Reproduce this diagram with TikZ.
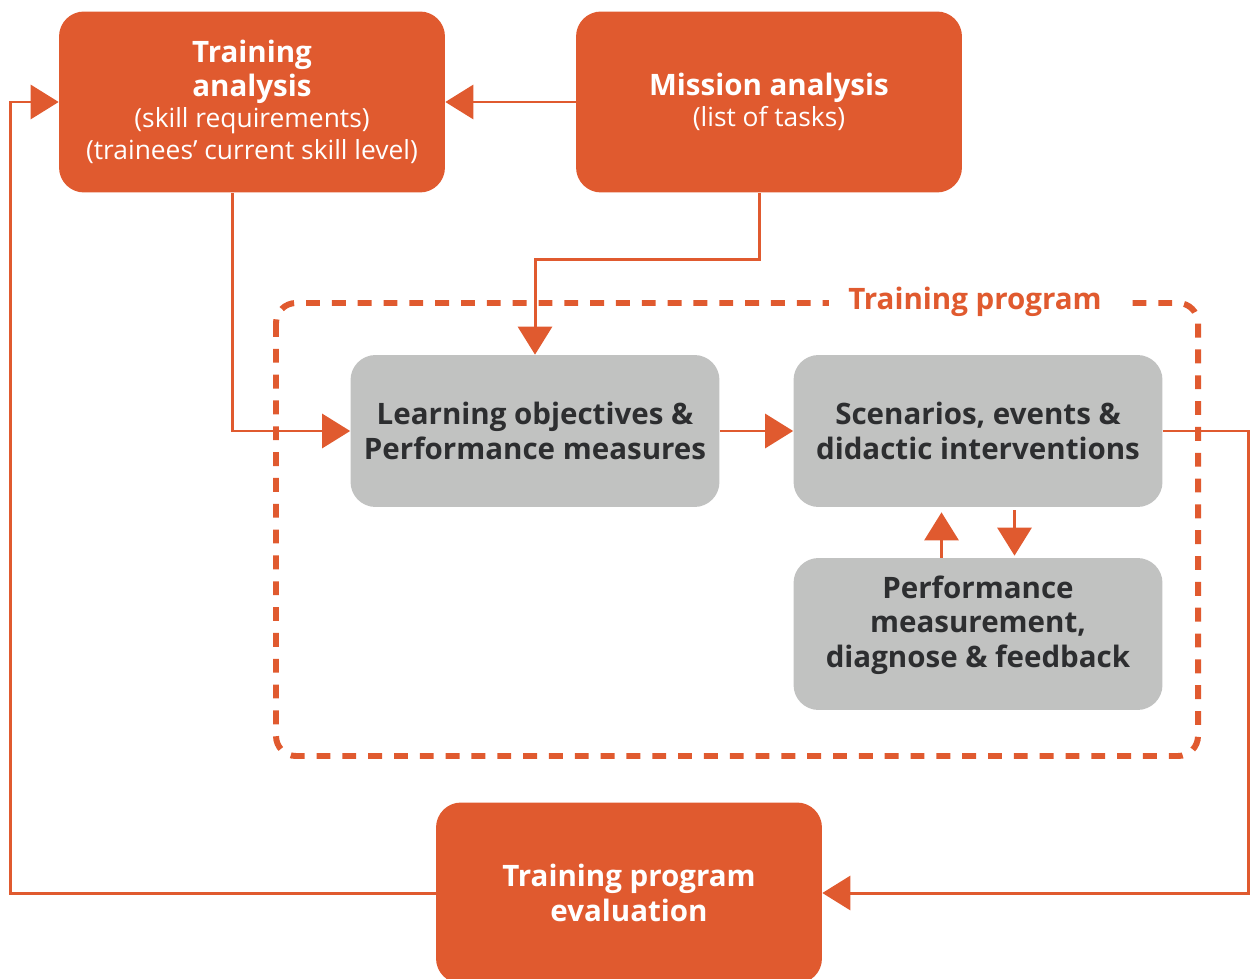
\documentclass[tikz,border=0pt]{standalone}
\usepackage{fontspec}
\setmainfont{Open Sans}
\usetikzlibrary{arrows.meta}
\definecolor{brick}{HTML}{E05A2F}
\definecolor{pale}{HTML}{C1C2C1}
\definecolor{ink}{HTML}{2D2E30}
\newcommand{\headfont}{\bfseries\fontsize{16.8}{19.8}\selectfont}

\begin{document}
\begin{tikzpicture}
  [x=0.02cm,y=-0.02cm,
   every node/.style={align=center,inner sep=0pt,font=\fontsize{15}{19}\selectfont},
   hot/.style={rounded corners=0.5cm,fill=brick,text=white,minimum width=7.72cm,minimum height=3.62cm},
   cool/.style={rounded corners=0.5cm,fill=pale,text=ink,font=\headfont,minimum width=7.38cm,minimum height=3.04cm},
   link/.style={draw=brick,line width=1.7pt,-{Triangle[length=0.56cm,width=0.68cm]}}]
  \useasboundingbox (0,0) rectangle (1253,979);

  % training program frame
  \draw[brick,line width=3.4pt,dash pattern=on 7.9pt off 6.8pt,rounded corners=0.4cm] (276,303) rectangle (1198,756);
  \node[fill=white,text=brick,font=\headfont,inner xsep=11pt,inner ysep=3pt] (tp) at (975,302) {Training program};

  \node[hot] (ta) at (252,102) {{\headfont Training}\\ {\headfont analysis}\\[-1pt] (skill requirements)\\[-1pt] (trainees' current skill level)};
  \node[hot] (ma) at (769,102) {{\headfont Mission analysis}\\[-1pt] (list of tasks)};
  \node[cool] (lo) at (535,431) {Learning objectives \&\\ Performance measures};
  \node[cool] (sc) at (978,431) {Scenarios, events \&\\ didactic interventions};
  \node[cool,text depth=14pt] (pm) at (978,634) {Performance\\ measurement,\\ diagnose \& feedback};
  \node[hot,font=\headfont] (ev) at (629,893) {Training program\\ evaluation};

  \foreach \from/\to in {ma/ta, lo/sc}
    \draw[link] (\from) -- (\to);

  \draw[link] ([xshift=-0.2cm]ma.south) -- ++(0,67) -| (lo.north);
  \draw[link] ([xshift=-0.4cm]ta.south) |- (lo.west);
  \draw[link] (sc.east) -- ++(86,0) |- (ev.east);
  \draw[link] (ev.west) -- ++(-425,0) |- (ta.west);
  \draw[link,shorten >=0.1cm] ([xshift=-0.73cm]pm.north) -- ([xshift=-0.73cm]sc.south);
  \draw[link,shorten <=0.06cm,shorten >=0.04cm] ([xshift=0.73cm]sc.south) -- ([xshift=0.73cm]pm.north);

\end{tikzpicture}
\end{document}
